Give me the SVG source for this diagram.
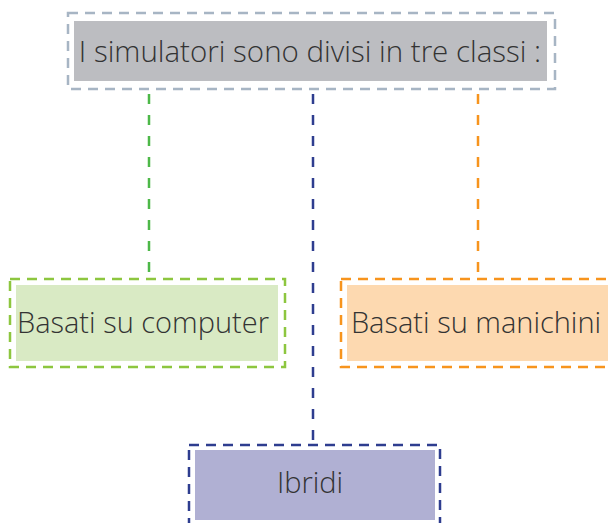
<svg xmlns="http://www.w3.org/2000/svg" width="608" height="523" viewBox="0 0 608 523">
<style>
.t{font-family:"Open Sans","Noto Sans",sans-serif;font-weight:300;font-size:29px;fill:#333333}
.b{fill:none;stroke-width:2.5;stroke-dasharray:10 7}
.c{fill:none;stroke-width:2.5;stroke-dasharray:10 11}
</style>
<rect width="608" height="523" fill="#ffffff"/>
<g id="connectors">
<line class="c" x1="149" y1="94" x2="149" y2="279" stroke="#4DB848"/>
<line class="c" x1="313" y1="94" x2="313" y2="445" stroke="#2E3D8F"/>
<line class="c" x1="478" y1="94" x2="478" y2="279" stroke="#F7941D"/>
</g>
<g id="top">
<rect x="74" y="21" width="473" height="60" fill="#BCBDC1"/>
<rect class="b" x="68" y="13" width="487" height="76" stroke="#A7B5C4"/>
<text class="t" x="310" y="62" text-anchor="middle" style="font-size:29.5px">I simulatori sono divisi in tre classi :</text>
</g>
<g id="computer">
<rect x="16" y="285" width="262" height="76" fill="#D9EAC4"/>
<rect class="b" x="10" y="279" width="275" height="88" stroke="#8DC63F"/>
<text class="t" x="143" y="333" text-anchor="middle">Basati su computer</text>
</g>
<g id="manichini">
<rect x="347" y="285" width="261" height="76" fill="#FDD9B0"/>
<rect class="b" x="341" y="279" width="275" height="88" stroke="#F7941D"/>
<text class="t" x="476" y="333" text-anchor="middle">Basati su manichini</text>
</g>
<g id="ibridi">
<rect x="195" y="450" width="240" height="70" fill="#B0B0D3"/>
<rect class="b" x="189" y="445" width="251" height="88" stroke="#2E3D8F"/>
<text class="t" x="310" y="493" text-anchor="middle">Ibridi</text>
</g>
</svg>
